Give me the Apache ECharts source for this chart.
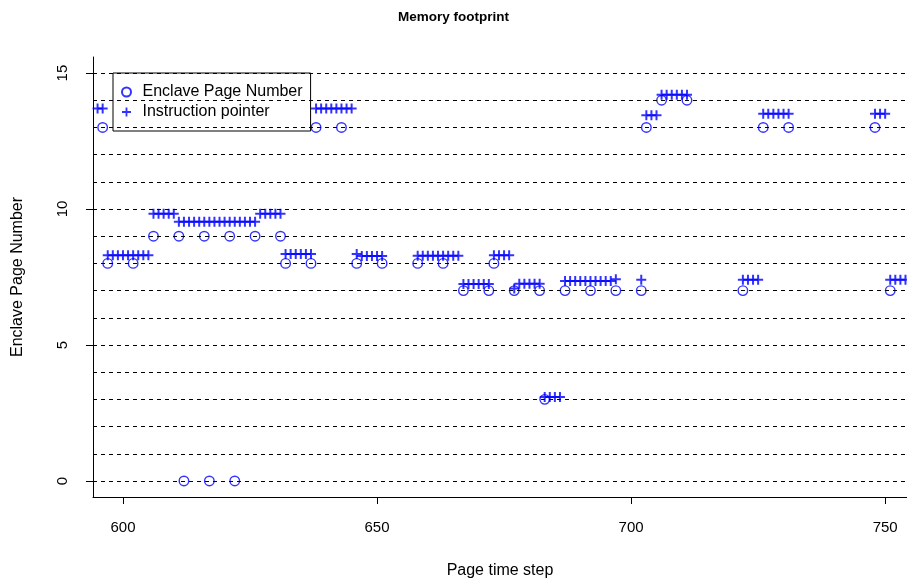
<!DOCTYPE html>
<html>
<head>
<meta charset="utf-8">
<script src="https://cdn.jsdelivr.net/npm/echarts@6/dist/echarts.min.js"></script>
<style>
html,body{margin:0;padding:0;background:#fff;}
#chart{width:907px;height:585px;}
</style>
</head>
<body>
<div id="chart"></div>
<script>
// Enclave page number samples (circles)
const pageSteps = [596, 597, 602, 606, 611, 612, 616, 617, 621, 622, 626, 631, 632, 637, 638, 643, 646, 651, 658, 663, 667, 672, 673, 677, 682, 683, 687, 692, 697, 702, 703, 706, 711, 722, 726, 731, 748, 751];
const pageNumbers = [13, 8, 8, 9, 9, 0, 9, 0, 9, 0, 9, 9, 8, 8, 13, 13, 8, 8, 8, 8, 7, 7, 8, 7, 7, 3, 7, 7, 7, 7, 13, 14, 14, 7, 13, 13, 13, 7];

// Instruction pointer samples (pluses)
const ipSteps = [595, 596,
  597, 598, 599, 600, 601, 602, 603, 604, 605,
  606, 607, 608, 609, 610,
  611, 612, 613, 614, 615, 616, 617, 618, 619, 620, 621, 622, 623, 624, 625, 626,
  627, 628, 629, 630, 631,
  632, 633, 634, 635, 636, 637,
  638, 639, 640, 641, 642, 643, 644, 645,
  646, 647, 648, 649, 650, 651,
  658, 659, 660, 661, 662, 663, 664, 665, 666,
  667, 668, 669, 670, 671, 672,
  673, 674, 675, 676,
  677, 678, 679, 680, 681, 682,
  683, 684, 685, 686,
  687, 688, 689, 690, 691, 692, 693, 694, 695, 696, 697,
  702,
  703, 704, 705,
  706, 707, 708, 709, 710, 711,
  722, 723, 724, 725,
  726, 727, 728, 729, 730, 731,
  748, 749, 750,
  751, 752, 753, 754];
const ipValues = [13.7, 13.7,
  8.3, 8.3, 8.3, 8.3, 8.3, 8.3, 8.3, 8.3, 8.3,
  9.83, 9.83, 9.83, 9.83, 9.83,
  9.53, 9.53, 9.53, 9.53, 9.53, 9.53, 9.53, 9.53, 9.53, 9.53, 9.53, 9.53, 9.53, 9.53, 9.53, 9.53,
  9.83, 9.83, 9.83, 9.83, 9.83,
  8.35, 8.35, 8.35, 8.35, 8.35, 8.35,
  13.7, 13.7, 13.7, 13.7, 13.7, 13.7, 13.7, 13.7,
  8.35, 8.27, 8.27, 8.27, 8.27, 8.27,
  8.28, 8.28, 8.28, 8.28, 8.28, 8.28, 8.28, 8.28, 8.28,
  7.24, 7.24, 7.24, 7.24, 7.24, 7.24,
  8.3, 8.3, 8.3, 8.3,
  7.08, 7.25, 7.25, 7.25, 7.25, 7.25,
  3.09, 3.09, 3.09, 3.09,
  7.35, 7.35, 7.35, 7.35, 7.35, 7.35, 7.35, 7.35, 7.35, 7.35, 7.42,
  7.4,
  13.45, 13.45, 13.45,
  14.2, 14.2, 14.2, 14.2, 14.2, 14.2,
  7.4, 7.4, 7.4, 7.4,
  13.5, 13.5, 13.5, 13.5, 13.5, 13.5,
  13.5, 13.5, 13.5,
  7.4, 7.4, 7.4, 7.4];

const xTicks = [600, 650, 700, 750];
const yTicks = [0, 5, 10, 15];
const gridLevels = [0, 1, 2, 3, 4, 5, 6, 7, 8, 9, 10, 11, 12, 13, 14, 15];

const FONT = 'Liberation Sans, Arial, Helvetica, sans-serif';
const PLUS = 'path://M0,4H10V6H0Z M4,0H6V10H4Z';

const pagePts = pageSteps.map((s, i) => [s, pageNumbers[i]]);
const ipPts = ipSteps.map((s, i) => [s, ipValues[i]]);

const chart = echarts.init(document.getElementById('chart'), null, {renderer: 'canvas'});
chart.setOption({
  animation: false,
  backgroundColor: '#fff',
  textStyle: {fontFamily: FONT},
  title: {
    text: 'Memory footprint',
    left: 'center',
    top: 5,
    textStyle: {fontFamily: FONT, fontSize: 13.5, fontWeight: 'bold', color: '#000'}
  },
  legend: {
    orient: 'vertical',
    left: 113,
    top: 73,
    data: ['Enclave Page Number', 'Instruction pointer'],
    backgroundColor: '#fff',
    borderColor: '#000',
    borderWidth: 1,
    borderRadius: 0,
    padding: [11, 8, 11, 8],
    itemGap: 4,
    itemWidth: 22,
    itemHeight: 9,
    textStyle: {fontFamily: FONT, fontSize: 16, color: '#000'}
  },
  grid: {left: 93, right: 0, top: 57, bottom: 88, containLabel: false},
  xAxis: {
    type: 'value',
    min: 594.1,
    max: 754.3,
    name: 'Page time step',
    nameLocation: 'middle',
    nameGap: 66,
    nameTextStyle: {fontFamily: FONT, fontSize: 16, color: '#000'},
    axisLine: {show: true, onZero: false, lineStyle: {color: '#000', width: 1}},
    axisTick: {show: true, length: 7, customValues: xTicks, lineStyle: {color: '#000'}},
    axisLabel: {customValues: xTicks, margin: 23, fontFamily: FONT, fontSize: 15, color: '#000'},
    splitLine: {show: false}
  },
  yAxis: {
    type: 'value',
    min: -0.59,
    max: 15.59,
    name: 'Enclave Page Number',
    nameLocation: 'middle',
    nameGap: 67,
    nameRotate: 90,
    nameTextStyle: {fontFamily: FONT, fontSize: 16, color: '#000'},
    axisLine: {show: true, onZero: false, lineStyle: {color: '#000', width: 1}},
    axisTick: {show: true, length: 7, customValues: yTicks, lineStyle: {color: '#000'}},
    axisLabel: {customValues: yTicks, rotate: 90, margin: 23, fontFamily: FONT, fontSize: 15, color: '#000'},
    splitLine: {show: false}
  },
  series: [
    {
      name: 'gridlines',
      type: 'line',
      data: [],
      z: 1,
      silent: true,
      markLine: {
        silent: true,
        symbol: ['none', 'none'],
        label: {show: false},
        lineStyle: {color: '#000', width: 1, type: [4, 4]},
        emphasis: {disabled: true},
        data: gridLevels.map(v => ({yAxis: v}))
      }
    },
    {
      name: 'Enclave Page Number',
      type: 'scatter',
      data: pagePts,
      symbol: 'circle',
      symbolSize: 9.5,
      z: 3,
      itemStyle: {color: 'rgba(0,0,0,0)', borderColor: '#0000ff', borderWidth: 1.4}
    },
    {
      name: 'Instruction pointer',
      type: 'scatter',
      data: ipPts,
      symbol: PLUS,
      symbolSize: 10,
      z: 4,
      itemStyle: {color: '#0000ff'}
    }
  ]
});
</script>
</body>
</html>
